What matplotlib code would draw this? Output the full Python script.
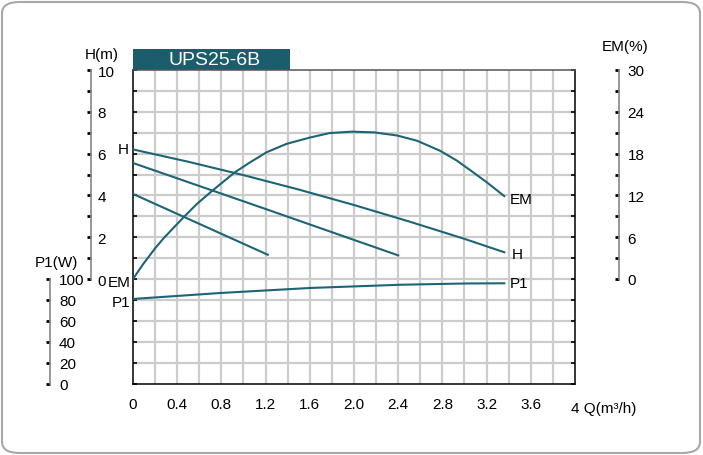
import matplotlib.pyplot as plt
from matplotlib.patches import FancyBboxPatch, Rectangle
import numpy as np

plt.rcParams['font.family'] = ['Liberation Sans', 'DejaVu Sans']

# pump curves
q_h_high = [0, 0.5, 1.0, 1.5, 2.0, 2.5, 3.0, 3.36]
h_high = [6.2, 5.61, 4.97, 4.28, 3.54, 2.75, 1.92, 1.28]
q_h_mid = [0, 1.2, 2.4]
h_mid = [5.55, 3.35, 1.13]
q_h_low = [0, 1.22]
h_low = [4.07, 1.16]

q_em = [0, 0.09, 0.2, 0.28, 0.46, 0.58, 0.72, 0.92, 1.06, 1.21, 1.39, 1.6, 1.78,
        1.98, 2.18, 2.39, 2.57, 2.78, 2.93, 3.08, 3.2, 3.36]
em = [0, 2.1, 4.4, 5.9, 8.9, 10.8, 12.7, 15.3, 16.75, 18.2, 19.4, 20.3, 20.95,
      21.15, 21.05, 20.6, 19.85, 18.4, 17.0, 15.3, 13.9, 11.9]

q_p1 = [0, 0.79, 1.6, 2.42, 3.0, 3.36]
p1 = [80.9, 86.6, 91.4, 94.5, 95.7, 95.9]

x_ticks = [0, 0.4, 0.8, 1.2, 1.6, 2.0, 2.4, 2.8, 3.2, 3.6]
x_labels = ['0', '0.4', '0.8', '1.2', '1.6', '2.0', '2.4', '2.8', '3.2', '3.6']

W, H = 703, 456
teal = '#1d6474'
fs = 11

fig = plt.figure(figsize=(W / 100, H / 100), dpi=100)

# outer rounded frame
frame = FancyBboxPatch((2 / W, 2 / H), 698 / W, 451 / H,
                       boxstyle='round,pad=0,rounding_size=0.025',
                       transform=fig.transFigure, fill=False,
                       edgecolor='#a8a8a8', linewidth=1.5)
fig.patches.append(frame)

L, R, T, B = 133, 575, 71, 384.5
ax = fig.add_axes([L / W, 1 - B / H, (R - L) / W, (B - T) / H])
ax.set_xlim(0, 4)
ax.set_ylim(-5, 10)

# grid
for x in np.arange(0.2, 4.0, 0.2):
    ax.axvline(x, color='#cccccc', lw=1.6, zorder=1)
for y in range(-4, 10):
    ax.axhline(y, color='#cccccc', lw=1.6, zorder=1)

for s in ['left', 'bottom', 'right']:
    ax.spines[s].set_color('black')
    ax.spines[s].set_linewidth(1.1)
ax.spines['top'].set_color('#555555')
ax.spines['top'].set_linewidth(1.1)
ax.set_yticks(range(-5, 11))
ax.tick_params(axis='y', direction='in', length=3, width=1.2, left=True, right=True,
               labelleft=False)
ax.set_xticks(x_ticks)
ax.set_xticklabels(x_labels, fontsize=fs)
ax.tick_params(axis='x', length=0, pad=10)

# curves
ax.plot(q_h_high, h_high, color=teal, lw=1.5, zorder=3)
ax.plot(q_h_mid, h_mid, color=teal, lw=1.5, zorder=3)
ax.plot(q_h_low, h_low, color=teal, lw=1.5, zorder=3)
ax.plot(q_em, np.array(em) / 3.0, color=teal, lw=1.5, zorder=3)
ax.plot(q_p1, np.array(p1) / 20.0 - 5, color=teal, lw=1.5, zorder=3)

# curve labels
ax.text(-0.04, 6.2, 'H', fontsize=fs, ha='right', va='center')
ax.text(-0.02, -0.15, 'EM', fontsize=fs, ha='right', va='center')
ax.text(-0.02, -1.1, 'P1', fontsize=fs, ha='right', va='center')
ax.text(3.41, 3.85, 'EM', fontsize=fs, ha='left', va='center')
ax.text(3.43, 1.2, 'H', fontsize=fs, ha='left', va='center')
ax.text(3.41, -0.2, 'P1', fontsize=fs, ha='left', va='center')
ax.text(3.965, -6.15, '4 Q(m³/h)', fontsize=fs, ha='left', va='center',
        clip_on=False)

# title box
ax.add_patch(Rectangle((0, 10), 1.42, 1.0, transform=ax.transData,
                       facecolor='#1b5d6c', edgecolor='none', clip_on=False))
ax.text(0.74, 10.5, 'UPS25-6B', color='white', fontsize=14,
        ha='center', va='center', clip_on=False)


def side_axis(xpix, ylim, bounds, ticks, labeled, label, label_dx, label_dy, pad=3):
    a = fig.add_axes([xpix / W, 1 - B / H, 0.0001, (B - T) / H])
    a.set_ylim(*ylim)
    a.patch.set_visible(False)
    a.set_xticks([])
    for s in ['top', 'bottom', 'right']:
        a.spines[s].set_visible(False)
    a.spines['left'].set_bounds(*bounds)
    a.spines['left'].set_color('#888888')
    a.spines['left'].set_linewidth(1.2)
    a.set_yticks(ticks)
    a.set_yticklabels([str(t) if t in labeled else '' for t in ticks], fontsize=fs)
    a.tick_params(axis='y', direction='out', length=3, width=2, color='black',
                  left=True, right=False, labelleft=False, labelright=True, pad=pad)
    a.annotate(label, (0, bounds[1]), xycoords=a.get_yaxis_transform(),
               xytext=(label_dx, label_dy), textcoords='offset pixels',
               fontsize=fs, ha='center', va='center')
    return a


side_axis(90.5, (-5, 10), (0, 10), list(range(0, 11)), [0, 2, 4, 6, 8, 10],
          'H(m)', 11, 16, pad=2)
side_axis(50.5, (0, 300), (0, 100), list(range(0, 101, 20)), list(range(0, 101, 20)),
          'P1(W)', 6, 17)
side_axis(619, (-15, 30), (0, 30), list(range(0, 31, 3)), [0, 6, 12, 18, 24, 30],
          'EM(%)', 6, 24)

fig.savefig('out.png', dpi=100)
